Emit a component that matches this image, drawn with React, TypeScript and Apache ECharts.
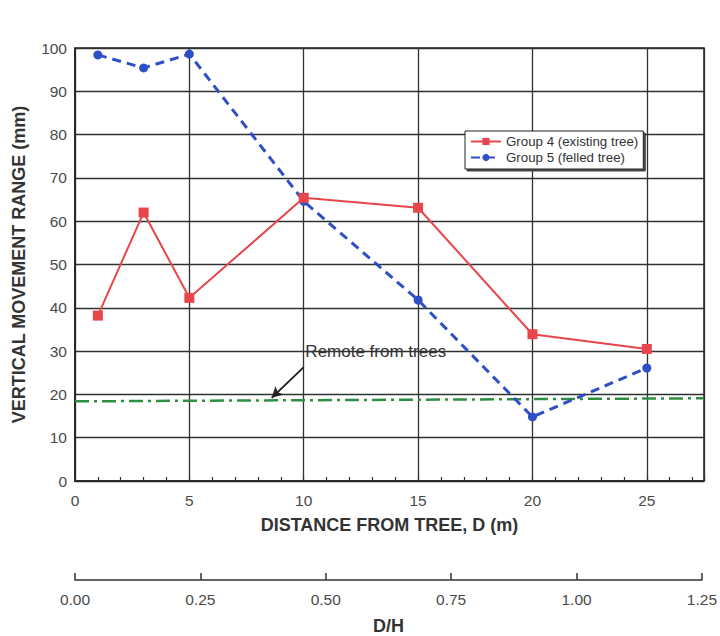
import React, { useEffect, useRef } from "react";
import * as echarts from "echarts";

const distances = [1, 3, 5, 10, 15, 20, 25];
const group4 = [38.2, 62, 42.3, 65.4, 63.1, 33.9, 30.5];
const group5 = [98.4, 95.4, 98.6, 64.6, 41.8, 14.8, 26.1];
const remoteX = [0, 27.5];
const remoteY = [18.4, 19.1];
const yTicks = { min: 0, max: 100, interval: 10 };
const dTicks = { min: 0, max: 27.5, interval: 5 };
const dhTicks = { min: 0, max: 1.25, interval: 0.25 };

const FONT = "Liberation Sans, Arial, sans-serif";

export default function App() {
  const ref = useRef<HTMLDivElement>(null);
  useEffect(() => {
    if (!ref.current) return;
    const chart = echarts.init(ref.current, null, { renderer: "svg" });
    const gridColor = "#2f3330";
    const titleStyle = { fontFamily: FONT, fontSize: 18, fontWeight: "bold", color: "#333" };
    const tickStyle = { fontFamily: FONT, fontSize: 15.5, color: "#4a4a4a" };
    chart.setOption({
      animation: false,
      backgroundColor: "#ffffff",
      textStyle: { fontFamily: FONT },
      grid: [
        { left: 75, right: 16, top: 48, height: 433, show: true, borderColor: "#222", borderWidth: 1.5, backgroundColor: "transparent" },
        { left: 75, right: 15, top: 579, height: 1, show: false },
      ],
      legend: {
        data: ["Group 4 (existing tree)", "Group 5 (felled tree)"],
        orient: "vertical",
        left: 465,
        top: 131,
        itemWidth: 30,
        itemHeight: 9,
        itemGap: 3,
        padding: [4, 5, 5, 5],
        backgroundColor: "#fff",
        borderColor: "#222",
        borderWidth: 1,
        shadowColor: "#444",
        shadowOffsetX: 2,
        shadowOffsetY: 2,
        shadowBlur: 0,
        textStyle: { fontFamily: FONT, fontSize: 13.3, color: "#333" },
      },
      xAxis: [
        {
          type: "value",
          gridIndex: 0,
          min: dTicks.min,
          max: dTicks.max,
          interval: dTicks.interval,
          name: "DISTANCE FROM TREE, D (m)",
          nameLocation: "middle",
          nameGap: 35,
          nameTextStyle: titleStyle,
          axisLine: { show: true, lineStyle: { color: "#222", width: 1.5 } },
          axisTick: { show: false },
          axisLabel: { ...tickStyle, margin: 11, showMaxLabel: false },
          splitLine: { show: true, lineStyle: { color: gridColor, width: 1.3 } },
        },
        {
          type: "value",
          gridIndex: 1,
          min: dhTicks.min,
          max: dhTicks.max,
          interval: dhTicks.interval,
          name: "D/H",
          nameLocation: "middle",
          nameGap: 37,
          nameTextStyle: titleStyle,
          axisLine: { show: true, lineStyle: { color: "#333", width: 1.5 } },
          axisTick: { show: true, inside: true, length: 7, lineStyle: { color: "#333", width: 1.5 } },
          axisLabel: { ...tickStyle, margin: 11, formatter: (v: number) => v.toFixed(2) },
          splitLine: { show: false },
        },
        {
          type: "value",
          gridIndex: 0,
          position: "bottom",
          min: dTicks.min,
          max: dTicks.max,
          interval: 1,
          axisLine: { show: false },
          axisTick: { show: true, inside: true, length: 4, lineStyle: { color: "#333", width: 1.2 } },
          axisLabel: { show: false },
          splitLine: { show: false },
        },
      ],
      yAxis: [
        {
          type: "value",
          gridIndex: 0,
          min: yTicks.min,
          max: yTicks.max,
          interval: yTicks.interval,
          name: "VERTICAL MOVEMENT RANGE (mm)",
          nameLocation: "middle",
          nameGap: 47,
          nameTextStyle: titleStyle,
          axisLine: { show: true, lineStyle: { color: "#222", width: 1.5 } },
          axisTick: { show: false },
          axisLabel: { ...tickStyle, margin: 8 },
          splitLine: { show: true, lineStyle: { color: gridColor, width: 1.3 } },
        },
        { type: "value", gridIndex: 1, show: false, min: 0, max: 1 },
      ],
      series: [
        {
          name: "Remote",
          type: "line",
          xAxisIndex: 0,
          yAxisIndex: 0,
          data: remoteX.map((x, i) => [x, remoteY[i]]),
          symbol: "none",
          lineStyle: { color: "#2f8f3f", width: 2.5, type: [14, 5, 3, 5] },
          z: 3,
          markLine: {
            silent: true,
            symbol: ["none", "arrow"],
            symbolSize: [9, 11],
            lineStyle: { color: "#222", width: 2, type: "solid" },
            label: { show: false },
            data: [[{ coord: [10.0, 26.3] }, { coord: [8.6, 19.2] }]],
          },
          markPoint: {
            silent: true,
            symbol: "circle",
            symbolSize: 1,
            itemStyle: { color: "transparent" },
            label: { show: true, position: "right", distance: 0, formatter: "Remote from trees", fontFamily: FONT, fontSize: 17, color: "#333" },
            data: [{ coord: [10.05, 29.8] }],
          },
        },
        {
          name: "Group 4 (existing tree)",
          type: "line",
          xAxisIndex: 0,
          yAxisIndex: 0,
          data: distances.map((x, i) => [x, group4[i]]),
          symbol: "rect",
          symbolSize: 10,
          itemStyle: { color: "#e8454c" },
          lineStyle: { color: "#e8454c", width: 2 },
          z: 5,
        },
        {
          name: "Group 5 (felled tree)",
          type: "line",
          xAxisIndex: 0,
          yAxisIndex: 0,
          data: distances.map((x, i) => [x, group5[i]]),
          symbol: "circle",
          symbolSize: 9,
          itemStyle: { color: "#2f4fc6" },
          lineStyle: { color: "#2f4fc6", width: 3, type: [9, 6] },
          z: 4,
        },
      ],
    });
    return () => chart.dispose();
  }, []);
  return <div ref={ref} style={{ width: 720, height: 636, position: "absolute", left: 0, top: 0 }} />;
}
